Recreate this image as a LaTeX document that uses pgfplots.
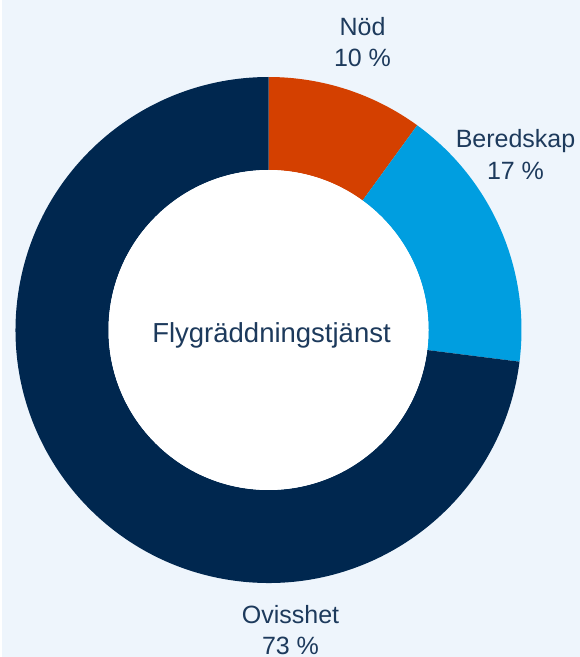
\documentclass[border=0pt]{standalone}
\usepackage{pgfplots}
\pgfplotsset{compat=1.18}
\usepackage{fontspec}
\setmainfont{Liberation Sans}
\definecolor{bgc}{HTML}{EEF5FC}
\definecolor{cnod}{HTML}{D44000}
\definecolor{cber}{HTML}{009EE0}
\definecolor{covi}{HTML}{00274F}
\definecolor{txt}{HTML}{1D3A5C}
% shares in percent
\def\vNod{10}
\def\vBer{17}
\def\vOvi{73}
\def\cx{267}
\def\cy{327}
\newcommand{\ring}[3]{%
  \fill[#1] ([shift={(#2:253pt)}]axis cs:\cx,\cy) arc[start angle=#2,end angle=#3,radius=253pt]
    -- ([shift={(#3:160pt)}]axis cs:\cx,\cy) arc[start angle=#3,end angle=#2,radius=160pt] -- cycle;}
\begin{document}
\begin{tikzpicture}
\begin{axis}[
  width=578pt, height=657pt, scale only axis,
  xmin=0, xmax=578, ymin=0, ymax=657,
  hide axis, clip=false,
]
\fill[bgc] (axis cs:0,0) rectangle (axis cs:578,657);
\pgfmathsetmacro{\aA}{90}
\pgfmathsetmacro{\aB}{90-3.6*\vNod}
\pgfmathsetmacro{\aC}{\aB-3.6*\vBer}
\pgfmathsetmacro{\aD}{\aC-3.6*\vOvi}
\ring{cnod}{\aA}{\aB}
\ring{cber}{\aB}{\aC}
\ring{covi}{\aC}{\aD}
\fill[white] (axis cs:\cx,\cy) circle[radius=160pt];
\begin{scope}[every node/.style={text=txt, anchor=base, font=\fontsize{25}{30}\selectfont, inner sep=0pt}]
\node at (axis cs:361,621) {Nöd};
\node at (axis cs:361,590) {\vNod\ \%};
\node at (axis cs:514,509) {Beredskap};
\node at (axis cs:514,477) {\vBer\ \%};
\node at (axis cs:289,34) {Ovisshet};
\node at (axis cs:289,2) {\vOvi\ \%};
\node[font=\fontsize{27.5}{32}\selectfont] at (axis cs:270,314) {Flygräddningstjänst};
\end{scope}
\end{axis}
\end{tikzpicture}
\end{document}
